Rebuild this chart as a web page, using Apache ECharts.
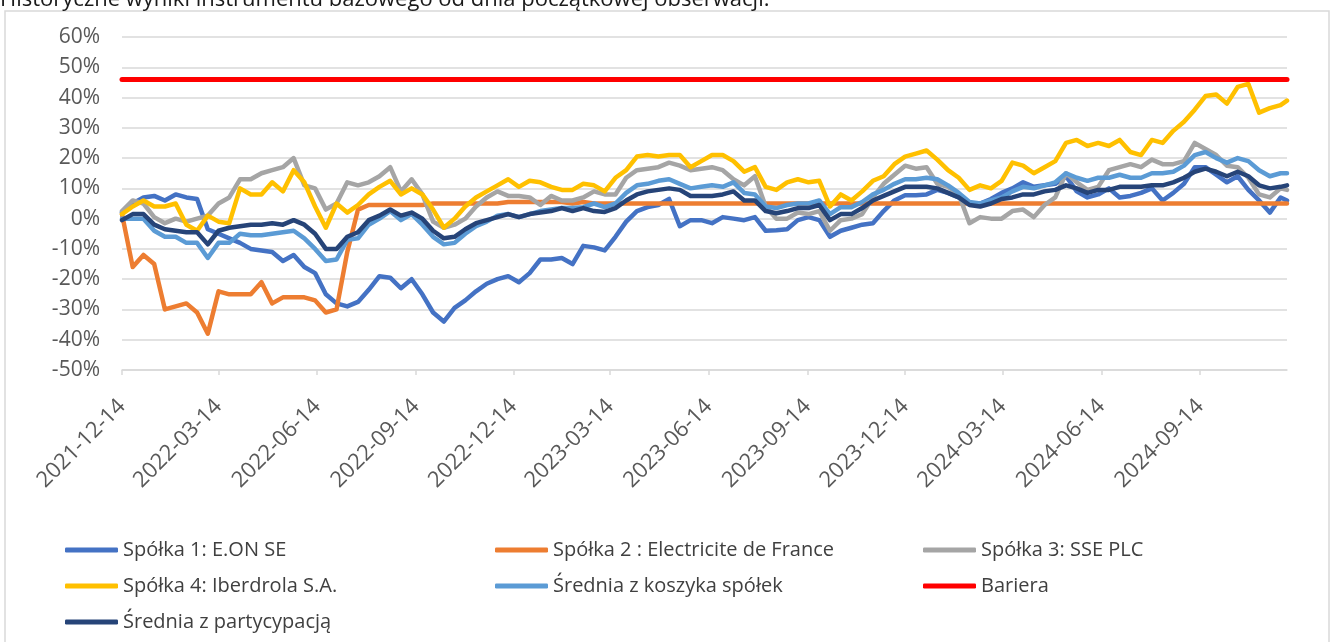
<!DOCTYPE html>
<html>
<head>
<meta charset="utf-8">
<title>Wyniki instrumentu bazowego</title>
<script src="https://cdn.jsdelivr.net/npm/echarts@6/dist/echarts.min.js"></script>
<style>
  html, body { margin: 0; padding: 0; background: #fff; }
  #chart { width: 1341px; height: 642px; }
</style>
</head>
<body>
<div id="chart"></div>
<script>
// daty obserwacji (co ok. 10 dni)
var dates = [
    '2021-12-14','2021-12-24','2022-01-03','2022-01-13','2022-01-23','2022-02-02','2022-02-12','2022-02-22','2022-03-04','2022-03-14','2022-03-24','2022-04-03','2022-04-13','2022-04-23','2022-05-03','2022-05-13','2022-05-23','2022-06-02','2022-06-12','2022-06-22','2022-07-02','2022-07-12',
    '2022-07-22','2022-08-01','2022-08-11','2022-08-21','2022-08-31','2022-09-10','2022-09-20','2022-09-30','2022-10-10','2022-10-20','2022-10-30','2022-11-09','2022-11-19','2022-11-29','2022-12-09','2022-12-19','2022-12-29','2023-01-08','2023-01-18','2023-01-28','2023-02-07','2023-02-17',
    '2023-02-27','2023-03-09','2023-03-19','2023-03-29','2023-04-08','2023-04-18','2023-04-28','2023-05-08','2023-05-18','2023-05-28','2023-06-07','2023-06-17','2023-06-27','2023-07-07','2023-07-17','2023-07-27','2023-08-06','2023-08-16','2023-08-26','2023-09-05','2023-09-15','2023-09-25',
    '2023-10-05','2023-10-15','2023-10-25','2023-11-04','2023-11-14','2023-11-24','2023-12-04','2023-12-14','2023-12-24','2024-01-03','2024-01-13','2024-01-23','2024-02-02','2024-02-12','2024-02-22','2024-03-03','2024-03-13','2024-03-23','2024-04-02','2024-04-12','2024-04-22','2024-05-02',
    '2024-05-12','2024-05-22','2024-06-01','2024-06-11','2024-06-21','2024-07-01','2024-07-11','2024-07-21','2024-07-31','2024-08-10','2024-08-20','2024-08-30','2024-09-09','2024-09-19','2024-09-29','2024-10-09','2024-10-19','2024-10-29','2024-11-08','2024-11-18','2024-11-28','2024-12-04'
];

var tickLabels = ['2021-12-14','2022-03-14','2022-06-14','2022-09-14','2022-12-14','2023-03-14','2023-06-14','2023-09-14','2023-12-14','2024-03-14','2024-06-14','2024-09-14'];

// wyniki w %
var eon = [
    2, 5, 7, 7.5, 6, 8, 7, 6.5, -3.5, -5, -6.5, -8, -10, -10.5, -11, -14, -12, -16, -18, -25, -28, -29,
    -27.5, -23.5, -19, -19.5, -23, -20, -25, -31, -34, -29.5, -27, -24, -21.5, -20, -19, -21, -18, -13.5, -13.5, -13, -15, -9,
    -9.5, -10.5, -6, -1, 2.5, 3.8, 4.5, 6.5, -2.5, -0.5, -0.5, -1.5, 0.5, 0, -0.5, 0.5, -4, -3.8, -3.5, -0.5, 0.5, -0.5,
    -6, -4, -3, -2, -1.5, 2.5, 6, 7.7, 7.7, 8, 9.5, 8.5, 7, 5, 5, 6.5, 8.5, 10, 12, 10.5, 11, 11.5,
    14, 9, 7, 8, 10, 7, 7.5, 8.5, 10, 6, 8.5, 11.5, 17, 17, 14.5, 12, 14, 9.5, 6, 2, 7, 6
];
var edf = [
    1.5, -16, -12, -15, -30, -29, -28, -31, -38, -24, -25, -25, -25, -21, -28, -26, -26, -26, -27, -31, -30, -11,
    3, 4.5, 4.5, 4.5, 4.5, 4.5, 4.5, 5, 5, 5, 5, 5, 5, 5, 5.5, 5.5, 5.5, 5.5, 5.5, 5.5, 5, 5.5,
    5, 5, 5, 5, 5, 5, 5, 5, 5, 5, 5, 5, 5, 5, 5, 5, 5, 5, 5, 5, 5, 5,
    5, 5, 5, 5, 5, 5, 5, 5, 5, 5, 5, 5, 5, 5, 5, 5, 5, 5, 5, 5, 5, 5,
    5, 5, 5, 5, 5, 5, 5, 5, 5, 5, 5, 5, 5, 5, 5, 5, 5, 5, 5, 5, 5, 5
];
var sse = [
    2.5, 6, 5, 0.5, -1.5, 0, -1, 0, 1, 5, 7, 13, 13, 15, 16, 17, 20, 11, 10, 3, 5, 12,
    11, 12, 14, 17, 9, 13, 8, -1, -3, -2, 0, 4, 7, 9, 7.5, 7.5, 7, 4.5, 7.5, 6, 6, 7,
    9, 8, 8, 13.5, 16, 16.5, 17, 18.5, 17.5, 16, 16.5, 17, 16, 13, 11, 14, 4, 0, 0, 2, 1.5, 2.5,
    -4, -0.5, 0, 1.5, 7, 11.5, 14.5, 17.5, 16.5, 17, 11.5, 10.5, 8, -1.5, 0.5, 0, 0, 2.5, 3, 0.5, 4.5, 7,
    15, 12, 9.5, 10.5, 16, 17, 18, 17, 19.5, 18, 18, 19, 25, 23, 21, 17.5, 17, 13.5, 8, 7, 10, 9.5
];
var iberdrola = [
    1.5, 4, 6, 4, 4, 5, -2, -4, 1, -1, -1.5, 10, 8, 8, 12, 9, 16, 12, 4, -3, 5, 2,
    4.5, 8, 10.5, 12.5, 8, 10, 8, 3, -3, 0, 4, 7, 9, 11, 13, 10.5, 12.5, 12, 10.5, 9.5, 9.5, 11.5,
    11, 9, 13.5, 16, 20.5, 21, 20.5, 21, 21, 17, 19, 21, 21, 19, 15.5, 17, 10.5, 9.5, 12, 13, 12, 12.5,
    4, 8, 6, 9, 12.5, 14, 18, 20.5, 21.5, 22.5, 19.5, 16, 13.5, 9.5, 11, 10, 12.5, 18.5, 17.5, 15, 17, 19,
    25, 26, 24, 25, 24, 26, 22, 21, 26, 25, 29, 32, 36, 40.5, 41, 38, 43.5, 44.5, 35, 36.5, 37.5, 39
];
var basketAvg = [
    0, 0, 0, -4, -6, -6, -8, -8, -13, -8, -8, -5, -5.5, -5.5, -5, -4.5, -4, -6.5, -10, -14, -13.5, -7,
    -6.5, -2, 0, 2.5, -0.5, 1.5, -2, -6, -8.5, -8, -5, -2.5, -1, 1, 1.5, 0.5, 1.5, 2.5, 3, 3.5, 3.5, 3.8,
    5, 3.8, 5, 8.5, 11, 11.5, 12.5, 13, 11.5, 10, 10.5, 11, 10.5, 12, 8.5, 8, 4, 3.5, 4.5, 5, 5, 6,
    1.5, 3.8, 3.8, 5.5, 8, 9.5, 11.5, 13, 13, 13.5, 13, 11, 8.5, 5.5, 5, 6, 7, 9, 10.5, 10, 11, 12,
    15, 13.5, 12.5, 13.5, 13.5, 14.5, 13.5, 13.5, 15, 15, 15.5, 17.5, 21, 22, 20, 18.5, 20, 19, 16, 14, 15, 15
];
var participationAvg = [
    -0.5, 1.5, 1.5, -2, -3.5, -4, -4.5, -4.5, -8.5, -4, -3, -2.5, -2, -2, -1.5, -2, -0.5, -2, -5, -10, -10, -6,
    -4.5, -0.5, 1, 3, 1, 2, 0, -4, -6.5, -6, -3.5, -1.5, -0.5, 0.5, 1.5, 0.5, 1.5, 2, 2.5, 3.5, 2.5, 3.5,
    2.5, 2.2, 3.5, 6, 8, 9, 9.5, 10, 9.5, 7.5, 7.5, 7.5, 8, 9, 6, 6, 2.5, 1.8, 2.5, 3.5, 3.5, 4.5,
    -0.5, 1.5, 1.5, 3.5, 6, 7.5, 9, 10.5, 10.5, 10.5, 10, 8.5, 7, 4.5, 4, 5, 6.5, 7, 8, 8, 9, 9.5,
    11, 10, 8.5, 9.5, 9.5, 10.5, 10.5, 10.5, 11, 11, 12, 13.5, 15.5, 16.5, 15.5, 14, 15.5, 14, 11, 10, 10.5, 11
];
var barrierLevel = 46;

var FONT = 'Open Sans';

function toTs(s) {
    var p = s.split('-');
    return new Date(+p[0], p[1] - 1, +p[2]).getTime();
}
function pad(n) { return n < 10 ? '0' + n : '' + n; }
function fmtDate(v) {
    var d = new Date(v);
    return d.getFullYear() + '-' + pad(d.getMonth() + 1) + '-' + pad(d.getDate());
}
function pairs(values) {
    return dates.map(function (d, i) { return [toTs(d), values[i]]; });
}
function lineSeries(name, color, values) {
    return {
        name: name,
        type: 'line',
        data: pairs(values),
        showSymbol: false,
        symbol: 'none',
        color: color,
        lineStyle: { width: 4.5, color: color, cap: 'round', join: 'round' }
    };
}

var tickTs = tickLabels.map(toTs);
var xMin = toTs(dates[0]);
var xMax = toTs(dates[dates.length - 1]);

var legendText = { color: '#404040', fontSize: 20, fontFamily: FONT };
var legendBase = {
    orient: 'vertical',
    top: 535,
    itemGap: 16,
    itemWidth: 53,
    itemHeight: 5,
    icon: 'roundRect',
    textStyle: legendText
};

var chart = echarts.init(document.getElementById('chart'));
chart.setOption({
    animation: false,
    backgroundColor: '#fff',
    graphic: [
        {
            type: 'rect', z: -10,
            shape: { x: 5, y: 11, width: 1324, height: 660 },
            style: { fill: 'none', stroke: '#D9D9D9', lineWidth: 1.5 }
        },
        {
            type: 'text', left: 0, top: -11,
            style: { text: 'Historyczne wyniki instrumentu bazowego od dnia początkowej obserwacji.', font: '22px "Open Sans"', fill: '#1a1a1a' }
        }
    ],
    grid: { left: 122, right: 54, top: 37, bottom: 272, containLabel: false },
    xAxis: [
        {
            type: 'value', min: xMin, max: xMax,
            axisLine: { show: false }, axisTick: { show: false },
            splitLine: { show: false },
            axisLabel: {
                customValues: tickTs, rotate: 45, margin: 33,
                color: '#595959', fontSize: 22, fontFamily: FONT,
                showMinLabel: true, showMaxLabel: true,
                formatter: function (v) { return fmtDate(v); }
            }
        },
        {
            type: 'value', min: xMin, max: xMax, position: 'bottom',
            axisLine: { show: true, onZero: true, lineStyle: { color: '#D9D9D9', width: 1.5 } },
            axisTick: { show: true, customValues: tickTs, length: 5, lineStyle: { color: '#D9D9D9', width: 1.5 } },
            axisLabel: { show: false },
            splitLine: { show: false }
        }
    ],
    yAxis: {
        type: 'value', min: -50, max: 60, interval: 10,
        axisLine: { show: false }, axisTick: { show: false },
        splitLine: { lineStyle: { color: '#D9D9D9', width: 1.5 } },
        axisLabel: { formatter: '{value}%', color: '#595959', fontSize: 21, fontFamily: FONT, margin: 22 }
    },
    legend: [
        Object.assign({ left: 60, data: ['Spółka 1: E.ON SE', 'Spółka 4: Iberdrola S.A.', 'Średnia z partycypacją'] }, legendBase),
        Object.assign({ left: 490, data: ['Spółka 2 : Electricite de France', 'Średnia z koszyka spółek'] }, legendBase),
        Object.assign({ left: 918, data: ['Spółka 3: SSE PLC', 'Bariera'] }, legendBase)
    ],
    series: [
        lineSeries('Spółka 1: E.ON SE', '#4472C4', eon),
        lineSeries('Spółka 2 : Electricite de France', '#ED7D31', edf),
        lineSeries('Spółka 3: SSE PLC', '#A5A5A5', sse),
        lineSeries('Spółka 4: Iberdrola S.A.', '#FFC000', iberdrola),
        lineSeries('Średnia z koszyka spółek', '#5B9BD5', basketAvg),
        {
            name: 'Bariera', type: 'line', symbol: 'none', color: '#FF0000',
            data: [[xMin, barrierLevel], [xMax, barrierLevel]],
            lineStyle: { width: 5, color: '#FF0000', cap: 'round' }
        },
        lineSeries('Średnia z partycypacją', '#264478', participationAvg)
    ]
});
</script>
</body>
</html>
